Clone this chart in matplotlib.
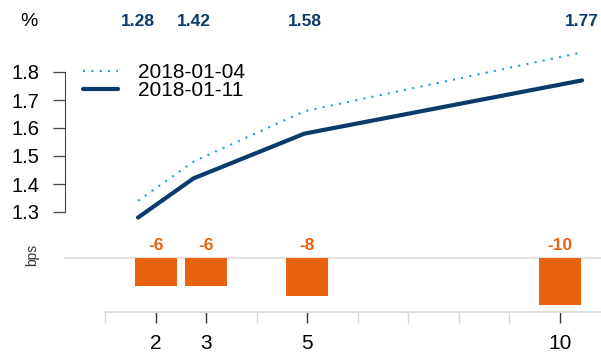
import matplotlib
matplotlib.use("Agg")
import matplotlib.pyplot as plt
from matplotlib.transforms import blended_transform_factory

plt.rcParams['font.family'] = ['Liberation Sans', 'DejaVu Sans']

# yield curve data
maturities = [2, 3, 5, 10]
yields_prev = [1.34, 1.48, 1.66, 1.87]
yields_curr = [1.28, 1.42, 1.58, 1.77]
change_bps = [-6, -6, -8, -10]
label_prev = "2018-01-04"
label_curr = "2018-01-11"

NAVY = "#0b3a6b"
LIGHT_BLUE = "#1ba1d6"
ORANGE = "#e8620f"

W, H = 601, 354
fig = plt.figure(figsize=(W / 100, H / 100), dpi=100)


def px_box(left, top, right, bottom):
    return [left / W, (H - bottom) / H, (right - left) / W, (bottom - top) / H]


# ---------- upper panel: yield curves ----------
ax = fig.add_axes(px_box(65, 44, 600, 226))
ax.plot(maturities, yields_prev, color=LIGHT_BLUE, lw=1.5,
        linestyle=(0, (1, 3)), label=label_prev)
ax.plot(maturities, yields_curr, color=NAVY, lw=3.0,
        solid_capstyle='round', label=label_curr)
ax.set_xlim(0.685, 10.324)
ax.set_ylim(1.25, 1.9)
ax.set_yticks([1.3, 1.4, 1.5, 1.6, 1.7, 1.8])
ax.set_yticklabels([f"{v:.1f}" for v in [1.3, 1.4, 1.5, 1.6, 1.7, 1.8]])
ax.set_xticks([])
for s in ['top', 'right', 'bottom']:
    ax.spines[s].set_visible(False)
ax.spines['left'].set_bounds(1.3, 1.8)
ax.spines['left'].set_color('#444444')
ax.tick_params(axis='y', length=8.5, width=0.9, color='#444444',
               pad=10, labelsize=14.5)

# current levels printed above the plot
tr = blended_transform_factory(ax.transData, fig.transFigure)
for m, y in zip(maturities, yields_curr):
    ax.text(m, (H - 22) / H, f"{y:.2f}", transform=tr, ha='center',
            va='center', fontsize=12.5, fontweight='bold', color=NAVY)
fig.text(29 / W, (H - 22) / H, "%", ha='center', va='center', fontsize=14)

leg = ax.legend(loc='upper left', bbox_to_anchor=(83 / W, (H - 63) / H),
                bbox_transform=fig.transFigure, frameon=False, fontsize=15,
                handlelength=1.7, handletextpad=0.95, labelspacing=-0.05,
                borderpad=0, borderaxespad=0)

# ---------- lower panel: weekly change ----------
bx = fig.add_axes(px_box(64, 232, 601, 312))
bx.bar(maturities, change_bps, width=0.83, color=ORANGE, edgecolor='none')
bx.axhline(0, color='#e3e3e3', lw=1.5, zorder=0)
bx.set_xlim(0.189, 10.81)
bx.set_ylim(-11.37, 5.47)
for m, v in zip(maturities, change_bps):
    bx.text(m, 2.63, f"{v:d}", ha='center', va='center', fontsize=12.5,
            fontweight='bold', color=ORANGE)
for s in ['top', 'right', 'left']:
    bx.spines[s].set_visible(False)
bx.spines['bottom'].set_bounds(1, 10.81)
bx.spines['bottom'].set_color('#dddddd')
bx.spines['bottom'].set_linewidth(1.5)
bx.set_yticks([])
bx.set_xticks(maturities)
bx.set_xticklabels([str(m) for m in maturities])
bx.set_xticks([1, 4, 6, 7, 8, 9], minor=True)
bx.tick_params(axis='x', which='major', length=8, width=1, color='#333333',
               pad=8, labelsize=15)
bx.tick_params(axis='x', which='minor', length=8, width=1, color='#d5d5d5')
fig.text(32 / W, (H - 255) / H, "bps", rotation=90, ha='center',
         va='center', fontsize=10, color='#333333')

fig.savefig("out.png", dpi=100)
